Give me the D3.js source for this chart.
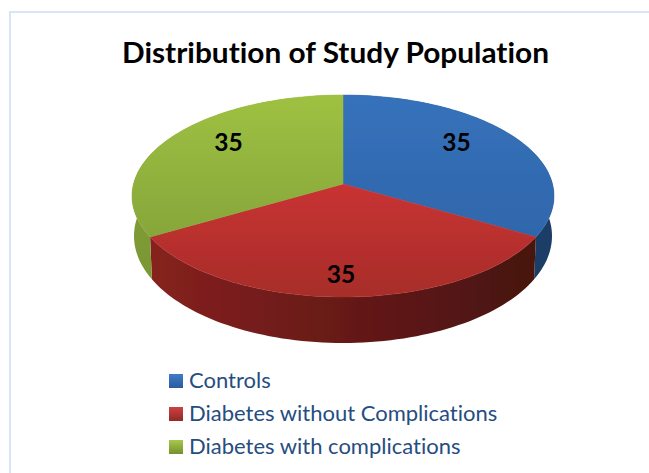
<!DOCTYPE html>
<html><head><meta charset="utf-8">
<script src="https://cdn.jsdelivr.net/npm/d3@7"></script>
<style>html,body{margin:0;padding:0;background:#fff}svg{display:block}text{font-variant-ligatures:none}</style>
</head><body><svg id="c" width="649" height="473"></svg>
<script>
const categories = ["Controls","Diabetes without Complications","Diabetes with complications"];
const values = [35,35,35];
const title = "Distribution of Study Population";

const topStops = [["#3672bb","#2f66ab"],["#c93232","#a72d2a"],["#9fc142","#86a63a"]];
const wallStops = [["#1a3c66","#1a3c66"],["#86211f","#471210"],["#86a339","#7a9733"]];
const legendStops = [["#3f7cc8","#2a5c9c"],["#d04040","#8f2a28"],["#a8c84c","#75902e"]];
const labelNudge = [-10,2,-10];
const labelRadius = [0.65,0.8,0.65];

const W=649,H=473;
const svg=d3.select("#c");
const defs=svg.append("defs");
defs.append("filter").attr("id","soft").append("feGaussianBlur").attr("stdDeviation",0.6);

const tilt=-0.119;
const project=(u,v)=>{const w=1+tilt*v;return [u*Math.sqrt(1-tilt*tilt)/w,(v+tilt)/w];};
const xTop=d3.scaleLinear().domain([-1,1]).range([132,554]);
const yTop=d3.scaleLinear().domain([-1,1]).range([95,297]);
const xBot=d3.scaleLinear().domain([-1,1]).range([134,552]);
const yBot=d3.scaleLinear().domain([-1,1]).range([129,343]);
const ptTop=(a,r=1)=>{const [p,q]=project(r*Math.sin(a),-r*Math.cos(a));return [xTop(p),yTop(q)];};
const ptBot=(a)=>{const [p,q]=project(Math.sin(a),-Math.cos(a));return [xBot(p),yBot(q)];};

const arcs=d3.pie().sort(null).value(d=>d)(values);
const line=d3.line();
const sample=(a0,a1)=>d3.range(0,73).map(i=>a0+(a1-a0)*i/72);

function grad(id,stops,x2,y2){
  const g=defs.append("linearGradient").attr("id",id).attr("x1",0).attr("y1",0).attr("x2",x2).attr("y2",y2);
  g.append("stop").attr("offset",0).attr("stop-color",stops[0]);
  g.append("stop").attr("offset",1).attr("stop-color",stops[1]);
}
arcs.forEach((d,i)=>{grad("t"+i,topStops[i],0,1);grad("w"+i,wallStops[i],i==1?1:0,i==1?0:1);grad("l"+i,legendStops[i],0,1);});

svg.append("path").attr("d",`M${W},12H10V${H}`).attr("fill","none").attr("stroke","#d9e4f4").attr("stroke-width",2);

svg.append("text").attr("x",335.5).attr("y",63).attr("text-anchor","middle")
  .attr("font-family","Lato").attr("font-weight",700).attr("font-size",28)
  .attr("textLength",427).attr("lengthAdjust","spacingAndGlyphs").attr("fill","#000").text(title);

const pie=svg.append("g").attr("filter","url(#soft)");
arcs.forEach((d,i)=>{
  const s=sample(d.startAngle,d.endAngle);
  pie.append("path").attr("d",line(s.map(a=>ptTop(a)).concat(s.slice().reverse().map(ptBot)))+"Z")
    .attr("fill",`url(#w${i})`);
});
arcs.forEach((d,i)=>{
  const s=sample(d.startAngle,d.endAngle);
  pie.append("path").attr("d",line([ptTop(0,0)].concat(s.map(a=>ptTop(a))))+"Z")
    .attr("fill",`url(#t${i})`).attr("stroke",`url(#t${i})`).attr("stroke-width",0.5);
});

arcs.forEach((d,i)=>{
  const [x,y]=ptTop((d.startAngle+d.endAngle)/2,labelRadius[i]);
  svg.append("text").attr("x",i==1?x-2:(i==2?x-1:x)).attr("y",y+labelNudge[i]+8.5).attr("text-anchor","middle")
    .attr("font-family","Lato").attr("font-weight",700).attr("font-size",24.5).attr("fill","#000").text(values[i]);
});

const ly=d3.scalePoint().domain(categories).range([381,447]);
const lg=svg.append("g");
categories.forEach((c,i)=>{
  lg.append("rect").attr("x",169).attr("y",ly(c)-7).attr("width",14).attr("height",14).attr("fill",`url(#l${i})`);
  lg.append("text").attr("x",189).attr("y",ly(c)+7).attr("font-family","Lato").attr("font-size",22).attr("fill","#264d7f").text(c);
});
</script></body></html>
